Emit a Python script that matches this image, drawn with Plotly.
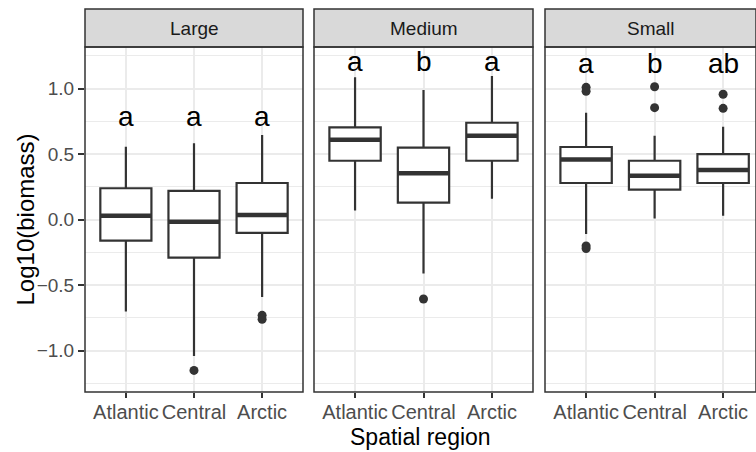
import plotly.graph_objects as go

regions = ["Atlantic", "Central", "Arctic"]
sizes = ["Large", "Medium", "Small"]

lower_fence = [[-0.70, -1.04, -0.59], [0.07, -0.41, 0.16], [-0.11, 0.01, 0.03]]
q1 = [[-0.16, -0.29, -0.10], [0.45, 0.13, 0.45], [0.28, 0.23, 0.28]]
median = [[0.03, -0.015, 0.035], [0.61, 0.355, 0.64], [0.46, 0.335, 0.38]]
q3 = [[0.24, 0.22, 0.28], [0.705, 0.55, 0.74], [0.555, 0.45, 0.50]]
upper_fence = [[0.557, 0.583, 0.647], [1.087, 0.99, 1.097], [0.817, 0.64, 0.71]]
outliers = [
    [[], [-1.15], [-0.73, -0.76]],
    [[], [-0.605], []],
    [[1.01, 0.98, -0.20, -0.22], [1.015, 0.855], [0.957, 0.85]],
]
letters = [["a", "a", "a"], ["a", "b", "a"], ["a", "b", "ab"]]
letter_y = [0.79, 1.21, 1.19]

W, H = 756, 452
ml, mr, mt, mb = 85, 0, 47, 60
pw = W - ml - mr
ph = H - mt - mb
domains = [[0, 218 / pw], [229 / pw, 448 / pw], [460 / pw, 1]]
xranges = [[0.4, 3.6], [0.4, 3.6], [0.4, 3.48]]

FONT = "Liberation Sans, Arial, sans-serif"
DARK = "#333333"
GRID = "#EBEBEB"
pos = [1, 2, 3]
bw = 0.75

fig = go.Figure()
shapes = []
annotations = []

for i, s in enumerate(sizes):
    xa = "x" if i == 0 else f"x{i+1}"
    ya = "y" if i == 0 else f"y{i+1}"
    fig.add_trace(go.Box(
        x=pos, q1=q1[i], median=median[i], q3=q3[i],
        lowerfence=lower_fence[i], upperfence=upper_fence[i],
        width=bw, fillcolor="white", line=dict(color=DARK, width=2.2),
        whiskerwidth=0, boxpoints=False, showlegend=False,
        xaxis=xa, yaxis=ya, hoverinfo="skip",
    ))
    mx, my = [], []
    for p, m in zip(pos, median[i]):
        mx += [p - bw / 2, p + bw / 2, None]
        my += [m, m, None]
    fig.add_trace(go.Scatter(x=mx, y=my, mode="lines",
                             line=dict(color=DARK, width=4.5),
                             showlegend=False, xaxis=xa, yaxis=ya, hoverinfo="skip"))
    ox, oy = [], []
    for p, vals in zip(pos, outliers[i]):
        ox += [p] * len(vals)
        oy += vals
    fig.add_trace(go.Scatter(x=ox, y=oy, mode="markers",
                             marker=dict(color=DARK, size=9),
                             showlegend=False, xaxis=xa, yaxis=ya, hoverinfo="skip"))
    for p, lt in zip(pos, letters[i]):
        annotations.append(dict(x=p, y=letter_y[i], xref=xa, yref=ya, text=lt,
                                showarrow=False, yanchor="middle",
                                font=dict(family=FONT, size=28, color="black")))
    dref = f"{xa} domain"
    # strip
    shapes.append(dict(type="rect", xref=dref, yref="paper", x0=0, x1=1,
                       y0=1, y1=1 + 38 / ph, fillcolor="#D9D9D9",
                       line=dict(color=DARK, width=1.5), layer="above"))
    annotations.append(dict(x=0.5, y=1 + 19 / ph, xref=dref, yref="paper", text=s,
                            showarrow=False, yanchor="middle",
                            font=dict(family=FONT, size=19, color="#1A1A1A")))
    # panel border
    shapes.append(dict(type="rect", xref=dref, yref=f"{ya} domain", x0=0, x1=1,
                       y0=0, y1=1, line=dict(color=DARK, width=1.5), layer="above"))

axis_common = dict(showgrid=True, gridcolor=GRID, gridwidth=1.5, zeroline=False,
                   showline=False)
layout = dict(width=W, height=H, margin=dict(l=ml, r=mr, t=mt, b=mb),
              plot_bgcolor="white", paper_bgcolor="white",
              shapes=shapes, annotations=annotations, showlegend=False)
for i in range(3):
    xk = "xaxis" if i == 0 else f"xaxis{i+1}"
    yk = "yaxis" if i == 0 else f"yaxis{i+1}"
    ya = "y" if i == 0 else f"y{i+1}"
    xa = "x" if i == 0 else f"x{i+1}"
    layout[xk] = dict(axis_common, domain=domains[i], range=xranges[i], anchor=ya,
                      tickmode="array", tickvals=pos, ticktext=regions,
                      ticks="outside", ticklen=5, tickwidth=1.5, tickcolor=DARK,
                      ticklabelstandoff=-3,
                      tickfont=dict(family=FONT, size=20, color="#4D4D4D"))
    layout[yk] = dict(axis_common, domain=[0, 1], range=[-1.315, 1.318], anchor=xa,
                      dtick=0.5, tick0=0,
                      minor=dict(dtick=0.25, tick0=0, showgrid=True, gridcolor=GRID,
                                 gridwidth=1, ticks=""),
                      ticks="outside" if i == 0 else "", ticklen=6, tickwidth=1.5,
                      tickcolor=DARK, showticklabels=(i == 0),
                      tickformat=".1f",
                      tickfont=dict(family=FONT, size=19, color="#4D4D4D"))
    if i > 0:
        layout[yk]["matches"] = "y"

annotations.append(dict(x=0.5, y=-45 / ph, xref="paper", yref="paper",
                        text="Spatial region", showarrow=False, yanchor="middle",
                        font=dict(family=FONT, size=23, color="black")))
annotations.append(dict(x=-60 / pw, y=0.5, xref="paper", yref="paper",
                        text="Log10(biomass)", showarrow=False, textangle=-90,
                        xanchor="center", yanchor="middle",
                        font=dict(family=FONT, size=24, color="black")))

fig.update_layout(**layout)
fig.write_html("out.html")
